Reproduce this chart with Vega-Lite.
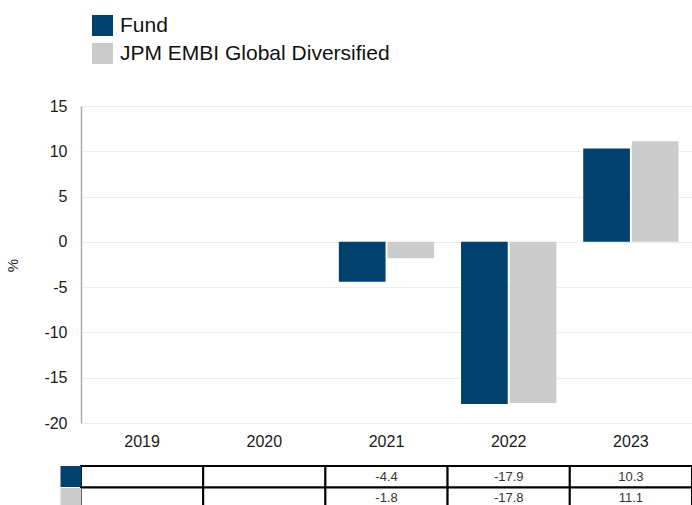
{
  "$schema": "https://vega.github.io/schema/vega-lite/v6.json",
  "autosize": {"type": "none"},
  "padding": {"left": 81, "top": 106, "right": 611, "bottom": 399},
  "bounds": "flush",
  "spacing": 43,
  "config": {"font": "Liberation Sans", "view": {"stroke": null}},
  "data": {
    "values": [
      {"year": "2019", "series": "Fund", "value": null},
      {"year": "2019", "series": "JPM EMBI Global Diversified", "value": null},
      {"year": "2020", "series": "Fund", "value": null},
      {"year": "2020", "series": "JPM EMBI Global Diversified", "value": null},
      {"year": "2021", "series": "Fund", "value": -4.4},
      {"year": "2021", "series": "JPM EMBI Global Diversified", "value": -1.8},
      {"year": "2022", "series": "Fund", "value": -17.9},
      {"year": "2022", "series": "JPM EMBI Global Diversified", "value": -17.8},
      {"year": "2023", "series": "Fund", "value": 10.3},
      {"year": "2023", "series": "JPM EMBI Global Diversified", "value": 11.1}
    ]
  },
  "vconcat": [
    {
      "width": 611,
      "height": 317,
      "mark": {"type": "bar"},
      "encoding": {
        "x": {
          "field": "year", "type": "nominal",
          "scale": {"domain": ["2019", "2020", "2021", "2022", "2023"], "paddingInner": 0.22, "paddingOuter": 0.11},
          "axis": {"title": null, "labelAngle": 0, "domain": false, "ticks": false, "grid": false, "labelFontSize": 16, "labelPadding": 10, "labelColor": "#1a1a1a"}
        },
        "xOffset": {
          "field": "series", "type": "nominal",
          "scale": {"domain": ["Fund", "JPM EMBI Global Diversified"], "paddingInner": 0.04}
        },
        "y": {
          "field": "value", "type": "quantitative",
          "scale": {"domain": [-20, 15], "nice": false, "zero": false},
          "axis": {
            "values": [-20, -15, -10, -5, 0, 5, 10, 15],
            "labelExpr": "'' + datum.value",
            "title": "%", "titleFontSize": 15, "titleFontWeight": "normal", "titleColor": "#1a1a1a",
            "titleAngle": -90, "titleX": -69, "titleY": 159, "titleAlign": "center", "titleBaseline": "middle",
            "grid": true, "gridColor": "#eeeeee", "gridWidth": 1,
            "domainColor": "#aaaaaa", "domainWidth": 1.5,
            "ticks": false, "labelPadding": 14, "labelFontSize": 16, "labelColor": "#1a1a1a"
          }
        },
        "color": {
          "field": "series", "type": "nominal",
          "scale": {"domain": ["Fund", "JPM EMBI Global Diversified"], "range": ["#00416e", "#cccccc"]},
          "legend": {
            "orient": "none", "legendX": 11, "legendY": -91, "title": null,
            "symbolType": "square", "symbolSize": 441, "symbolStrokeWidth": 0,
            "labelFontSize": 21, "labelOffset": 7, "rowPadding": 6, "padding": 0,
            "labelLimit": 500, "labelColor": "#111111"
          }
        }
      }
    },
    {
      "width": 611,
      "height": 43,
      "encoding": {
        "x": {
          "field": "year", "type": "nominal",
          "scale": {"domain": ["2019", "2020", "2021", "2022", "2023"], "paddingInner": 0, "paddingOuter": 0},
          "axis": null
        },
        "y": {
          "field": "series", "type": "nominal",
          "scale": {"domain": ["Fund", "JPM EMBI Global Diversified"], "paddingInner": 0, "paddingOuter": 0},
          "axis": {
            "title": null, "labels": false, "domain": false, "grid": false,
            "ticks": true, "tickSize": 21, "tickWidth": 21, "tickBand": "center",
            "tickColor": {"condition": {"test": "datum.value === 'Fund'", "value": "#00416e"}, "value": "#cccccc"}
          }
        }
      },
      "layer": [
        {"mark": {"type": "rect", "fill": "white", "stroke": "black", "strokeWidth": 2}},
        {
          "transform": [{"filter": "datum.value != null"}],
          "mark": {"type": "text", "fontSize": 13, "color": "#333333"},
          "encoding": {"text": {"field": "value", "type": "nominal"}}
        }
      ]
    }
  ]
}
